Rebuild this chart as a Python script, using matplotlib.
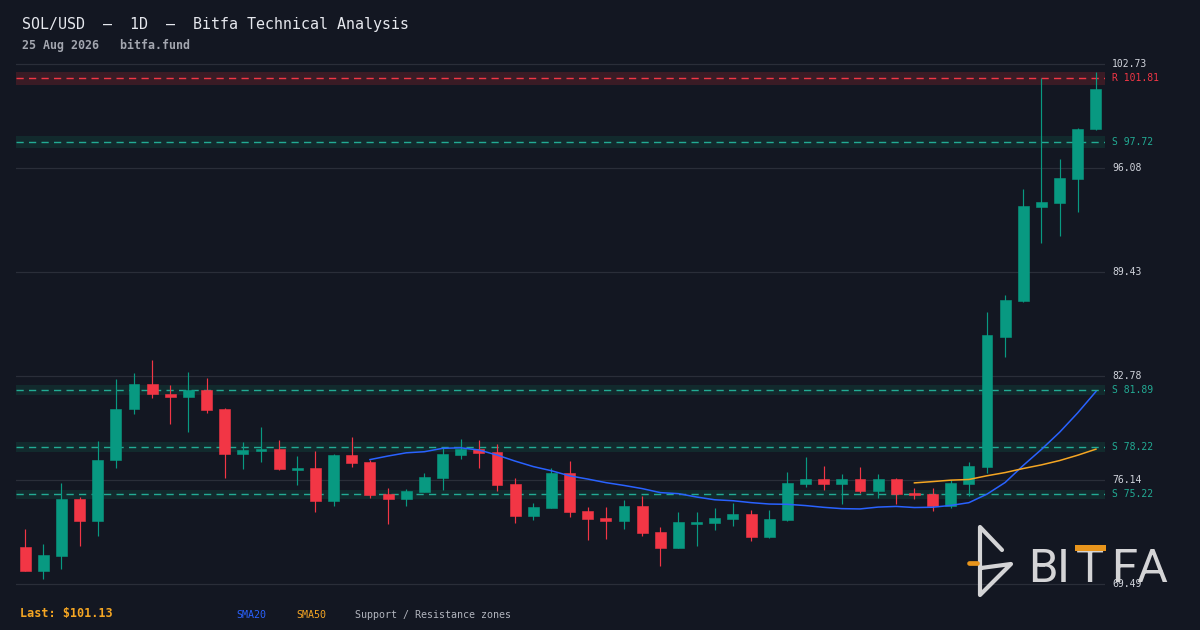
import matplotlib
matplotlib.use("Agg")
import matplotlib.pyplot as plt
from matplotlib.lines import Line2D
from matplotlib.patches import Rectangle
import numpy as np
import pandas as pd

# ---------------- data ----------------
opens = [71.86, 70.34, 71.30, 74.93, 73.48, 77.38, 80.65, 82.29, 81.65, 81.42,
         81.91, 80.69, 77.77, 77.96, 78.09, 76.79, 76.92, 74.80, 77.75, 77.30,
         75.25, 74.93, 75.38, 76.28, 77.75, 78.13, 77.94, 75.89, 73.84, 74.36,
         76.60, 74.16, 73.72, 73.52, 74.48, 72.82, 71.79, 73.33, 73.40, 73.65,
         73.97, 72.50, 73.59, 75.89, 76.21, 75.89, 76.21, 75.44, 76.21, 75.32,
         75.25, 74.48, 75.89, 76.98, 85.30, 87.60, 93.59, 93.82, 95.38, 98.58]
highs = [73.01, 72.05, 75.96, 75.04, 78.64, 82.61, 82.99, 83.83, 82.23, 83.06,
         82.68, 80.75, 78.58, 79.54, 78.71, 77.68, 78.01, 77.81, 78.90, 77.43,
         75.64, 75.57, 76.60, 78.20, 78.77, 78.71, 78.45, 76.28, 74.68, 76.92,
         77.36, 74.42, 74.42, 74.87, 75.12, 73.14, 74.10, 74.10, 74.36, 74.68,
         74.23, 74.23, 76.66, 77.62, 77.04, 76.53, 76.98, 76.53, 76.28, 75.64,
         75.64, 76.15, 77.30, 86.90, 87.93, 94.74, 101.81, 96.64, 98.63, 102.20]
lows = [70.30, 69.77, 70.47, 71.88, 72.58, 76.87, 80.33, 81.35, 79.69, 79.18,
        80.43, 76.23, 76.81, 77.26, 76.78, 75.78, 74.10, 74.48, 76.98, 75.00,
        73.33, 74.48, 75.36, 75.51, 77.49, 76.92, 75.44, 73.40, 73.59, 74.34,
        73.78, 72.31, 72.37, 73.01, 72.56, 70.64, 71.77, 71.92, 72.95, 73.20,
        72.24, 72.43, 73.52, 75.70, 75.51, 74.61, 75.32, 75.00, 74.61, 74.93,
        74.16, 74.36, 75.12, 76.60, 84.02, 87.53, 91.26, 91.73, 93.26, 98.50]
closes = [70.34, 71.35, 74.93, 73.48, 77.43, 80.69, 82.29, 81.61, 81.42, 81.91,
          80.62, 77.77, 78.07, 78.09, 76.81, 76.92, 74.80, 77.75, 77.24, 75.19,
          74.93, 75.44, 76.34, 77.81, 78.13, 77.88, 75.83, 73.84, 74.42, 76.60,
          74.10, 73.65, 73.52, 74.48, 72.76, 71.79, 73.46, 73.46, 73.72, 73.97,
          72.50, 73.65, 75.96, 76.21, 75.89, 76.21, 75.44, 76.21, 75.25, 75.19,
          74.48, 75.96, 77.04, 85.43, 87.67, 93.65, 93.89, 95.42, 98.56, 101.13]

support_levels = [97.72, 81.89, 78.22, 75.22]
resistance_levels = [101.81]
y_ticks = [69.49, 76.14, 82.78, 89.43, 96.08, 102.73]

title = "SOL/USD  \u2013  1D  \u2013  Bitfa Technical Analysis"
subtitle = "25 Aug 2026   bitfa.fund"
logo_text = "BITFA"

# ---------------- style ----------------
BG = "#131722"
GREEN = "#089981"
RED = "#f23645"
GRID = "#2a2e39"
TXT = "#d1d4dc"
SUP_LINE = "#22ab94"
SUP_BAND = "#122a2d"
RES_BAND = "#3a1b25"
BLUE = "#2962ff"
ORANGE = "#f5a623"
MONO = "DejaVu Sans Mono"

W, H = 1200, 630
fig = plt.figure(figsize=(12, 6.3), dpi=100, facecolor=BG)

def px(v):
    return 64 + (102.73 - v) * 15.64

ymin, ymax = 69.0, 103.2
top_px, bot_px = px(ymax), px(ymin)
ax = fig.add_axes([16 / W, (H - bot_px) / H, 1089 / W, (bot_px - top_px) / H])
ax.set_facecolor(BG)
for s in ax.spines.values():
    s.set_visible(False)
ax.set_xticks([])
ax.set_yticks([])
n = len(closes)
ax.set_xlim(-0.5, n - 0.5)
ax.set_ylim(ymin, ymax)

# grid + tick labels
ytr = ax.get_yaxis_transform()
for t in y_ticks:
    ax.axhline(t, color=GRID, lw=0.9, zorder=1)
    ax.text(1.0065, t, f"{t:.2f}", transform=ytr, color=TXT, fontsize=7,
            family=MONO, va="center", ha="left", clip_on=False, zorder=20)

# zones
DASH = (5.2, 3.8)
for lv in support_levels:
    ax.axhspan(lv * 0.996, lv * 1.004, color=SUP_BAND, lw=0, zorder=0.5)
    ax.axhline(lv, color=SUP_LINE, lw=1.0, dashes=DASH, zorder=1.5)
    ax.text(1.0065, lv, f"S {lv:.2f}", transform=ytr, color=SUP_LINE, fontsize=7,
            family=MONO, va="center", ha="left", clip_on=False)
for lv in resistance_levels:
    ax.axhspan(lv * 0.996, lv * 1.004, color=RES_BAND, lw=0, zorder=0.5)
    ax.axhline(lv, color=RED, lw=1.0, dashes=DASH, zorder=1.5)
    ax.text(1.0065, lv, f"R {lv:.2f}", transform=ytr, color=RED, fontsize=7,
            family=MONO, va="center", ha="left", clip_on=False)

# candles
x = np.arange(n)
bw = 0.6
for i in range(n):
    o, h, l, c = opens[i], highs[i], lows[i], closes[i]
    col = GREEN if c >= o else RED
    ax.vlines(i, l, h, color=col, lw=0.85, zorder=3)
    lo, hi = min(o, c), max(o, c)
    ax.add_patch(Rectangle((i - bw / 2, lo), bw, max(hi - lo, 0.08),
                           facecolor=col, edgecolor=col, lw=0.4, zorder=4))

# moving averages
cs = pd.Series(closes)
sma20 = cs.rolling(20).mean()
sma50 = cs.rolling(50).mean()
ax.plot(x, sma20, color=BLUE, lw=1.1, zorder=5)
ax.plot(x, sma50, color=ORANGE, lw=1.1, zorder=5)

# texts
def ft(xp, yp, s, **kw):
    return fig.text(xp / W, 1 - yp / H, s, **kw)

ft(22, 24, title, color="#e6e8ee", fontsize=10.8, family=MONO, va="center")
ft(22, 45, subtitle, color="#a3a6af", fontsize=8.4, family=MONO,
   fontweight="bold", va="center")
ft(20, 613, f"Last: ${closes[-1]:.2f}", color=ORANGE, fontsize=8.5, family=MONO,
   fontweight="bold", va="center")
ft(236, 615, "SMA20", color=BLUE, fontsize=7.2, family=MONO, va="center")
ft(296, 615, "SMA50", color=ORANGE, fontsize=7.2, family=MONO, va="center")
ft(355, 615, "Support / Resistance zones", color="#b2b5be", fontsize=7.2,
   family=MONO, va="center")

# logo (decoration)
LOGO = "#d4d4d6"
LOGO_OR = "#e8951c"
def fl(pts, color=LOGO, lw=3.0):
    xs = [p[0] / W for p in pts]
    ys = [1 - p[1] / H for p in pts]
    fig.add_artist(Line2D(xs, ys, color=color, lw=lw, solid_capstyle="round",
                          solid_joinstyle="round", transform=fig.transFigure))

fl([(1002, 550), (980, 527), (980, 595), (1011, 564), (981, 568)])
fl([(969, 563), (977, 563)], color=LOGO_OR, lw=3.4, )
letter_x = [1043, 1063, 1090, 1124, 1152]
for ch, lx in zip(logo_text, letter_x):
    ft(lx, 582, ch, color=LOGO, fontsize=34, family="Roboto", fontweight="normal",
       va="baseline", ha="center")
fig.add_artist(Rectangle((1075 / W, 1 - 551 / H), 31 / W, 6.5 / H,
                         facecolor=LOGO_OR, edgecolor="none", zorder=10,
                         transform=fig.transFigure))

fig.savefig("out.png", dpi=100, facecolor=BG)
